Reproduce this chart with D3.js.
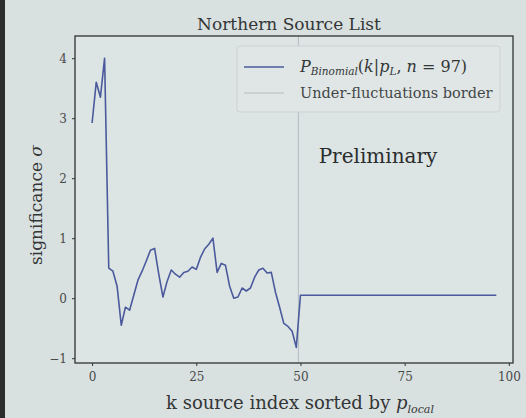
<!DOCTYPE html>
<html><head><meta charset="utf-8">
<script src="https://cdn.jsdelivr.net/npm/d3@7"></script>
<style>
html,body{margin:0;padding:0;background:#d9e0e0;}
svg{display:block;}
</style></head>
<body>
<script>
// ---- data ----
const kIndex = d3.range(0, 98);
const sigmaHead = [2.92, 3.6, 3.35, 4.0, 0.5, 0.45, 0.2, -0.45, -0.15, -0.2,
  0.05, 0.3, 0.45, 0.62, 0.8, 0.83, 0.4, 0.02, 0.28, 0.47,
  0.4, 0.35, 0.43, 0.45, 0.52, 0.48, 0.68, 0.82, 0.9, 1.0,
  0.43, 0.58, 0.55, 0.2, 0.0, 0.02, 0.17, 0.12, 0.17, 0.35,
  0.47, 0.5, 0.42, 0.43, 0.1, -0.15, -0.42, -0.47, -0.55, -0.82];
const sigmaTailValue = 0.05;
const sigmaValues = kIndex.map(k => k < sigmaHead.length ? sigmaHead[k] : sigmaTailValue);
const borderK = 49.5;
const xTicks = [0, 25, 50, 75, 100];
const yTicks = [-1, 0, 1, 2, 3, 4];
const titleText = "Northern Source List";
const legendLabels = ["Under-fluctuations border"];

// ---- layout ----
const W = 526, H = 418;
const L = 75, R = 513, T = 36, B = 363;
const svg = d3.select("body").append("svg").attr("width", W).attr("height", H);
const serif = "'DejaVu Serif', serif";

svg.append("rect").attr("width", W).attr("height", H).attr("fill", "#d9e0e0");
svg.append("rect").attr("x", 0).attr("y", 0).attr("width", 5).attr("height", H).attr("fill", "#2a2e2c");
svg.append("rect").attr("x", L).attr("y", T).attr("width", R - L).attr("height", B - T).attr("fill", "#dde4e4");

const x = d3.scaleLinear().domain([-4.1, 101]).range([L, R]);
const y = d3.scaleLinear().domain([-1.08, 4.37]).range([B, T]);

// border line
svg.append("line").attr("x1", x(borderK)).attr("x2", x(borderK)).attr("y1", T).attr("y2", B)
  .attr("stroke", "#b4bcc0").attr("stroke-width", 1);

// data line
const line = d3.line().x((d, i) => x(kIndex[i])).y(d => y(d));
svg.append("path").datum(sigmaValues).attr("d", line).attr("fill", "none")
  .attr("stroke", "#4a5a9c").attr("stroke-width", 1.6).attr("stroke-linejoin", "round");

// frame
svg.append("rect").attr("x", L).attr("y", T).attr("width", R - L).attr("height", B - T)
  .attr("fill", "none").attr("stroke", "#2f3333").attr("stroke-width", 1.3);

// axes
const xAxis = svg.append("g").attr("transform", `translate(0,${B})`)
  .call(d3.axisBottom(x).tickValues(xTicks).tickSize(3).tickPadding(6).tickFormat(d3.format("d")));
const yAxis = svg.append("g").attr("transform", `translate(${L},0)`)
  .call(d3.axisLeft(y).tickValues(yTicks).tickSize(3).tickPadding(5).tickFormat(d => d < 0 ? "\u22121" : d));
[xAxis, yAxis].forEach(g => {
  g.select(".domain").remove();
  g.selectAll("line").attr("stroke", "#333");
  g.selectAll("text").attr("font-family", serif).attr("font-size", 12).attr("fill", "#474a4a");
});

// title
svg.append("text").attr("x", 289).attr("y", 30).attr("text-anchor", "middle")
  .attr("font-family", serif).attr("font-size", 17).attr("fill", "#333636").text(titleText);

// axis labels
const xl = svg.append("text").attr("x", 300).attr("y", 409).attr("text-anchor", "middle")
  .attr("font-family", serif).attr("font-size", 18).attr("fill", "#333636");
xl.append("tspan").text("k source index sorted by ");
xl.append("tspan").attr("font-style", "italic").text("p");
xl.append("tspan").attr("font-style", "italic").attr("font-size", 11).attr("dy", 4).text("local");

const yl = svg.append("text").attr("transform", "translate(42,205) rotate(-90)").attr("text-anchor", "middle")
  .attr("font-family", serif).attr("font-size", 17).attr("fill", "#333636");
yl.append("tspan").text("significance ");
yl.append("tspan").attr("font-style", "italic").text("\u03c3");

// Preliminary
svg.append("text").attr("x", 378).attr("y", 163).attr("text-anchor", "middle")
  .attr("font-family", serif).attr("font-size", 20).attr("fill", "#2a2d2d").text("Preliminary");

// legend
const lg = svg.append("g");
lg.append("rect").attr("x", 237).attr("y", 46).attr("width", 263).attr("height", 66).attr("rx", 3)
  .attr("fill", "#e0e6e6").attr("stroke", "#cdd3d4");
lg.append("line").attr("x1", 244).attr("x2", 284).attr("y1", 67).attr("y2", 67)
  .attr("stroke", "#4a5a9c").attr("stroke-width", 1.6);
lg.append("line").attr("x1", 244).attr("x2", 284).attr("y1", 93).attr("y2", 93)
  .attr("stroke", "#b4bcc0").attr("stroke-width", 1);
const t1 = lg.append("text").attr("x", 300).attr("y", 72).attr("font-family", serif)
  .attr("font-size", 16).attr("fill", "#333636");
t1.append("tspan").attr("font-style", "italic").text("P");
t1.append("tspan").attr("font-style", "italic").attr("font-size", 10.5).attr("dy", 3).text("Binomial");
t1.append("tspan").attr("dy", -3).text("(");
t1.append("tspan").attr("font-style", "italic").text("k");
t1.append("tspan").text("|");
t1.append("tspan").attr("font-style", "italic").text("p");
t1.append("tspan").attr("font-style", "italic").attr("font-size", 10.5).attr("dy", 3).text("L");
t1.append("tspan").attr("dy", -3).text(", ");
t1.append("tspan").attr("font-style", "italic").text("n");
t1.append("tspan").text(" = 97)");
lg.append("text").attr("x", 300).attr("y", 98).attr("font-family", serif)
  .attr("font-size", 14.5).attr("fill", "#434646").text(legendLabels[0]);
</script>
</body></html>
